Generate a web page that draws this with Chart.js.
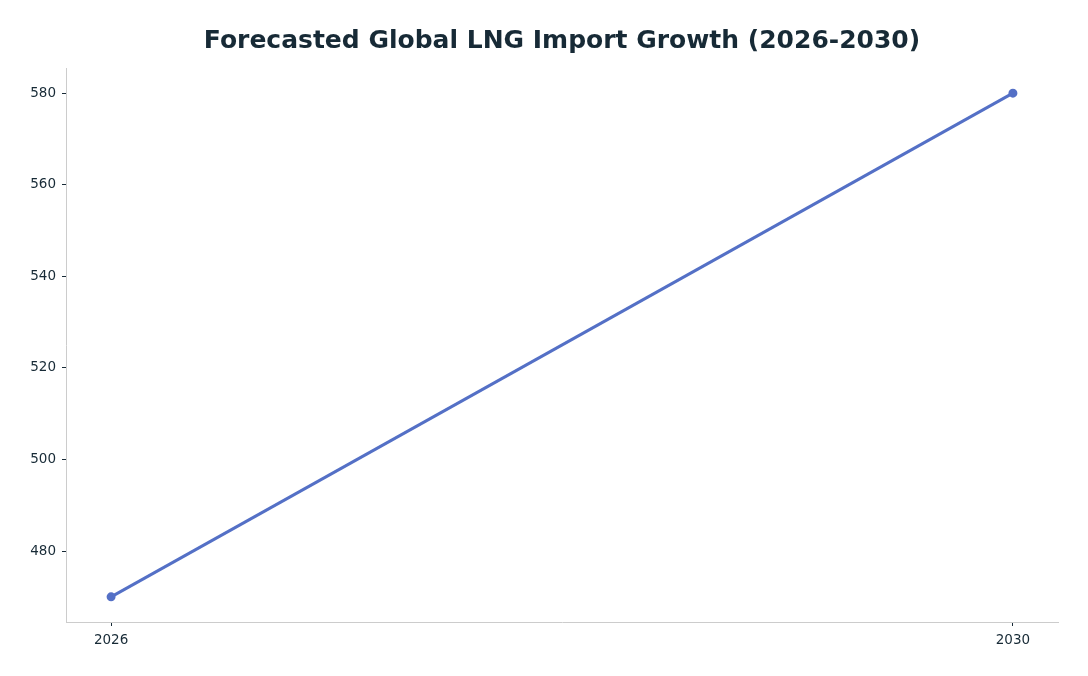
<!DOCTYPE html>
<html>
<head>
    <script src="https://cdn.jsdelivr.net/npm/chart.js"></script>
    <style>
        body {
            margin: 0;
            background: #ffffff;
        }
        canvas {
            display: block;
        }
    </style>
</head>
<body>
    <canvas id="lngChart" width="1088" height="676"></canvas>

    <script>
        let years = [2026, 2030];
        let imports = [470, 580];
        let yTicks = [480, 500, 520, 540, 560, 580];
        let xTicks = [2026, 2030];

        let textColor = '#172a36';
        let lineColor = '#5470c6';

        let ctx = document.getElementById('lngChart').getContext('2d');

        let points = years.map(function (yr, i) {
            return { x: yr, y: imports[i] };
        });

        let chart = new Chart(ctx, {
            type: 'line',
            data: {
                datasets: [{
                    label: 'LNG imports',
                    data: points,
                    borderColor: lineColor,
                    backgroundColor: lineColor,
                    borderWidth: 3,
                    pointRadius: 3,
                    pointHoverRadius: 3,
                    tension: 0
                }]
            },
            options: {
                responsive: false,
                animation: false,
                layout: {
                    padding: { left: 0, right: 30, top: 0, bottom: 0 }
                },
                plugins: {
                    legend: { display: false },
                    tooltip: { enabled: false },
                    title: {
                        display: true,
                        fullSize: false,   // center over the plot area, not the canvas
                        text: 'Forecasted Global LNG Import Growth (2026-2030)',
                        color: textColor,
                        font: { family: 'DejaVu Sans', size: 25, weight: 'bold' },
                        padding: { top: 26, bottom: 12 }
                    }
                },
                scales: {
                    x: {
                        type: 'linear',
                        min: 2025.8,
                        max: 2030.2,
                        afterBuildTicks: function (scale) {
                            scale.ticks = xTicks.map(function (v) { return { value: v }; });
                        },
                        afterFit: function (scale) {
                            scale.height = 54;
                        },
                        ticks: {
                            color: textColor,
                            font: { family: 'DejaVu Sans', size: 13.5 },
                            padding: 6,
                            maxRotation: 0,
                            callback: function (v) { return String(v); }
                        },
                        grid: {
                            drawOnChartArea: false,
                            tickLength: 4,
                            tickColor: textColor
                        },
                        border: { color: '#cccccc', width: 1 }
                    },
                    y: {
                        min: 464.5,
                        max: 585.5,
                        afterBuildTicks: function (scale) {
                            scale.ticks = yTicks.map(function (v) { return { value: v }; });
                        },
                        afterFit: function (scale) {
                            scale.width = 66;
                        },
                        ticks: {
                            color: textColor,
                            font: { family: 'DejaVu Sans', size: 13.5 },
                            padding: 6
                        },
                        grid: {
                            drawOnChartArea: false,
                            tickLength: 4,
                            tickColor: textColor
                        },
                        border: { color: '#cccccc', width: 1 }
                    }
                }
            }
        });
    </script>
</body>
</html>
